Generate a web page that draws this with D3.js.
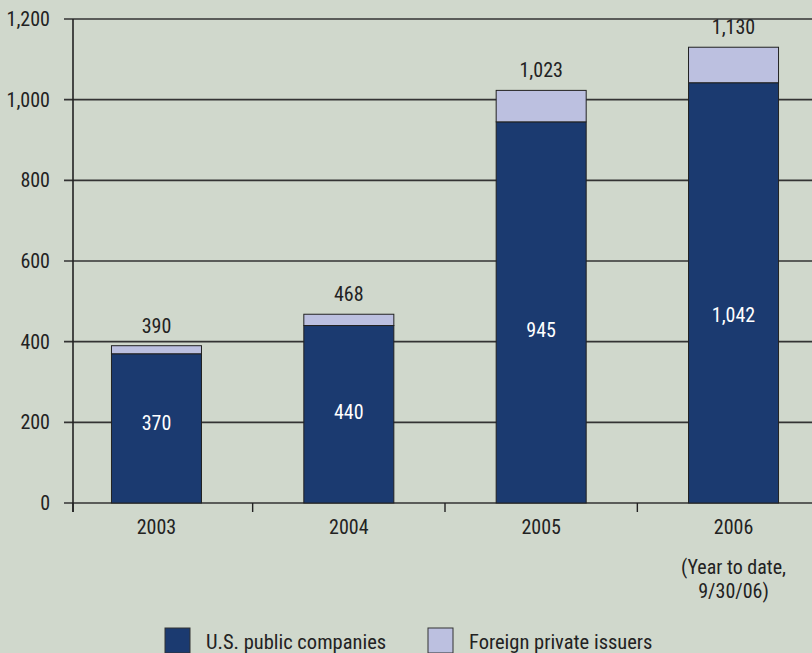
<!DOCTYPE html>
<html>
<head>
<meta charset="utf-8">
<script src="https://cdn.jsdelivr.net/npm/d3@7"></script>
<style>
  body { margin: 0; background: #d0d8cc; }
  text { font-family: "Liberation Sans Narrow", "Roboto Condensed", "Liberation Sans", sans-serif; fill: #222; }
</style>
</head>
<body>
<div id="chart"></div>
<script>
// data
const years = ["2003", "2004", "2005", "2006"];
const usPublic = [370, 440, 945, 1042];
const totals = [390, 468, 1023, 1130];
const yTicks = [0, 200, 400, 600, 800, 1000, 1200];
const seriesNames = ["U.S. public companies", "Foreign private issuers"];
const colors = ["#1b3a70", "#bcc0e0"];

const W = 812, H = 653;
const margin = {top: 19, right: 0, bottom: 150, left: 73};
const width = W - margin.left - margin.right,
  height = H - margin.top - margin.bottom;
const fs = "20px";

const svg = d3.select("#chart").append("svg")
  .attr("width", W).attr("height", H)
  .style("background", "#d0d8cc");

const g = svg.append("g").attr("transform", `translate(${margin.left},${margin.top})`);

const x = d3.scaleBand().domain(years).range([0, width + 5]).paddingInner(0.532).paddingOuter(0.2);
const y = d3.scaleLinear().domain([0, 1200]).range([height, 0]);

// gridlines + y labels
g.selectAll(".grid").data(yTicks).join("line")
  .attr("x1", -9).attr("x2", width)
  .attr("y1", d => y(d)).attr("y2", d => y(d))
  .attr("stroke", "#333").attr("stroke-width", 1.6);

g.selectAll(".ylab").data(yTicks).join("text")
  .attr("x", -23).attr("y", d => y(d)).attr("dy", "0.35em")
  .attr("text-anchor", "end").style("font-size", fs)
  .text(d => d3.format(",")(d));

// y axis line
g.append("line").attr("x1", 0).attr("x2", 0).attr("y1", 0).attr("y2", height + 9)
  .attr("stroke", "#222").attr("stroke-width", 1.6);

// x ticks between categories
const step = x.step();
const tickX = years.map((d, i) => i === 0 ? 0 : x(d) - (step - x.bandwidth()) / 2);
g.selectAll(".xtick").data(tickX).join("line")
  .attr("x1", d => d).attr("x2", d => d)
  .attr("y1", height).attr("y2", height + 9)
  .attr("stroke", "#222").attr("stroke-width", 1.4);

// bars
const bw = x.bandwidth();
g.selectAll(".us").data(years).join("rect")
  .attr("x", d => x(d)).attr("width", bw)
  .attr("y", (d, i) => y(usPublic[i]))
  .attr("height", (d, i) => y(0) - y(usPublic[i]))
  .attr("fill", colors[0]).attr("stroke", "#222").attr("stroke-width", 1);

g.selectAll(".fr").data(years).join("rect")
  .attr("x", d => x(d)).attr("width", bw)
  .attr("y", (d, i) => y(totals[i]))
  .attr("height", (d, i) => y(usPublic[i]) - y(totals[i]))
  .attr("fill", colors[1]).attr("stroke", "#222").attr("stroke-width", 1);

// total labels
g.selectAll(".tot").data(years).join("text")
  .attr("x", d => x(d) + bw / 2).attr("y", (d, i) => y(totals[i]) - 13)
  .attr("text-anchor", "middle").style("font-size", fs)
  .text((d, i) => d3.format(",")(totals[i]));

// inside labels
g.selectAll(".inl").data(years).join("text")
  .attr("x", d => x(d) + bw / 2).attr("y", (d, i) => y(usPublic[i] * 0.4 + 50)).attr("dy", "0.35em")
  .attr("text-anchor", "middle").style("font-size", fs).style("fill", "#fff")
  .text((d, i) => d3.format(",")(usPublic[i]));

// year labels
g.selectAll(".xl").data(years).join("text")
  .attr("x", d => x(d) + bw / 2).attr("y", height + 31)
  .attr("text-anchor", "middle").style("font-size", fs)
  .text(d => d);

const last = years[years.length - 1];
g.append("text").attr("x", x(last) + bw / 2).attr("y", height + 71)
  .attr("text-anchor", "middle").style("font-size", fs).text("(Year to date,");
g.append("text").attr("x", x(last) + bw / 2).attr("y", height + 95)
  .attr("text-anchor", "middle").style("font-size", fs).text("9/30/06)");

// legend
const legend = svg.append("g").attr("transform", "translate(165,628)");
const lx = [0, 263];
seriesNames.forEach((s, i) => {
  legend.append("rect").attr("x", lx[i]).attr("y", 0).attr("width", 25).attr("height", 25)
    .attr("fill", colors[i]).attr("stroke", "#333").attr("stroke-width", 1);
  legend.append("text").attr("x", lx[i] + 41).attr("y", 21)
    .style("font-size", "20.5px").text(s);
});
</script>
</body>
</html>
